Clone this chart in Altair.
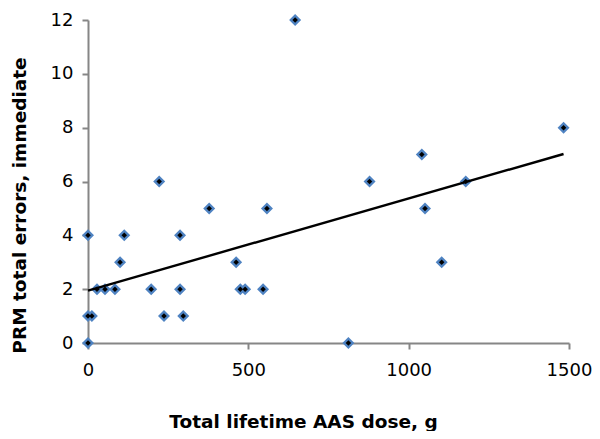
import altair as alt
import pandas as pd

dose_g = [0, 0, 12, 0, 28, 53, 84, 197, 287, 475, 490, 546, 100, 462, 1103,
          113, 287, 237, 297, 812, 378, 558, 1051, 222, 878, 1178, 1041, 1483, 646]
prm_errors = [0, 1, 1, 4, 2, 2, 2, 2, 2, 2, 2, 2, 3, 3, 3,
              4, 4, 1, 1, 0, 5, 5, 5, 6, 6, 6, 7, 8, 12]

x_ticks = [0, 500, 1000, 1500]
y_ticks = [0, 2, 4, 6, 8, 10, 12]

df = pd.DataFrame({"dose": dose_g, "errors": prm_errors})

FONT = "DejaVu Sans"
AXIS_GREY = "#868686"

x_enc = alt.X(
    "dose:Q",
    scale=alt.Scale(domain=[0, 1500], nice=False, zero=True),
    axis=alt.Axis(
        values=x_ticks, format="d", grid=False, title="Total lifetime AAS dose, g",
        domainColor=AXIS_GREY, domainWidth=2, tickColor=AXIS_GREY, tickWidth=2,
        tickSize=6, labelFont=FONT, labelFontSize=18, labelColor="black",
        labelPadding=12, titleFont=FONT, titleFontSize=18.5, titleFontWeight="bold",
        titleColor="black", titleX=215, titleY=84, titleAlign="center",
        titleBaseline="alphabetic", labelFlush=False,
    ),
)
y_enc = alt.Y(
    "errors:Q",
    scale=alt.Scale(domain=[0, 12], nice=False, zero=True),
    axis=alt.Axis(
        values=y_ticks, format="d", grid=False, title="PRM total errors, immediate",
        domainColor=AXIS_GREY, domainWidth=2, tickColor=AXIS_GREY, tickWidth=2,
        tickSize=6, labelFont=FONT, labelFontSize=18, labelColor="black",
        labelPadding=9, titleFont=FONT, titleFontSize=18.5, titleFontWeight="bold",
        titleColor="black", titleX=-63, titleY=185, titleAngle=270,
        titleAlign="center", titleBaseline="alphabetic", labelFlush=False,
    ),
)

base = alt.Chart(df)

outer = base.mark_point(shape="diamond", filled=True, size=144, color="#4f83c2",
                        opacity=1).encode(x=x_enc, y=y_enc)
inner = base.mark_point(shape="diamond", filled=True, size=30, color="black",
                        opacity=1).encode(x="dose:Q", y="errors:Q")
trend = base.transform_regression("dose", "errors").mark_line(
    color="black", strokeWidth=2.4).encode(x="dose:Q", y="errors:Q")

chart = alt.layer(outer, inner, trend).properties(
    width=481, height=323,
    autosize=alt.AutoSizeParams(type="none"),
    padding={"left": 80, "top": 12, "right": 23, "bottom": 88},
).configure_view(stroke=None)

chart.save("out.html", embed_options={"renderer": "svg", "actions": False})
